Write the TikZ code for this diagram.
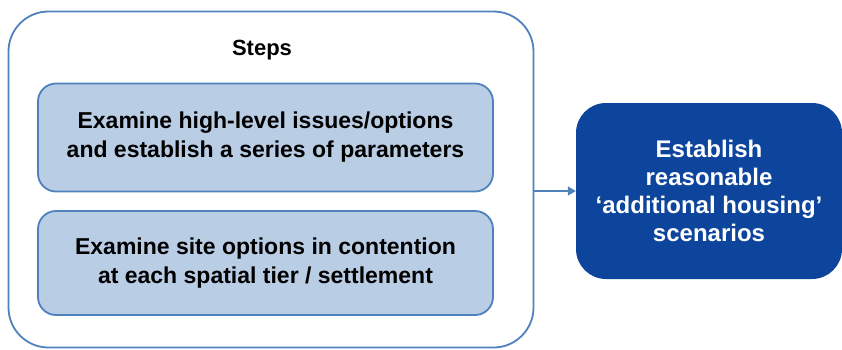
\documentclass[tikz,border=0pt]{standalone}
\usepackage{fontspec}
\setmainfont{Liberation Sans}
\usetikzlibrary{positioning, arrows.meta}
\definecolor{edgeblue}{RGB}{79,129,189}
\definecolor{paleblue}{RGB}{185,205,229}
\definecolor{deepblue}{RGB}{14,69,156}
\tikzstyle{frame}=[draw=edgeblue, line width=1.8pt, rounded corners=40pt, fill=white]
\tikzstyle{stepbox}=[draw=edgeblue, line width=1.8pt, fill=paleblue, rounded corners=18pt,
  minimum width=455pt, minimum height=108pt, align=center,
  font=\bfseries\fontsize{23}{29}\selectfont]
\tikzstyle{outcome}=[fill=deepblue, text=white, rounded corners=30pt,
  minimum width=266pt, minimum height=176pt, align=center,
  font=\bfseries\fontsize{24}{28}\selectfont]
\tikzstyle{arrow}=[-{Triangle[length=8pt, width=9pt]}, line width=1.3pt, draw=edgeblue]

\begin{document}
\begin{tikzpicture}[x=1pt, y=-1pt]
      \useasboundingbox (0,0) rectangle (842,349);

      \node[frame, minimum width=525pt, minimum height=336pt] (steps) at (271,179.5) {};
      \node[font=\bfseries\fontsize{22}{24}\selectfont] (title) at (262,50) {Steps};

      \node[stepbox] (params) at (265.5,137.5) {Examine high-level issues/options\\and establish a series of parameters};
      \node[stepbox, minimum height=104pt] (sites) at (265.5,263) {Examine site options in contention\\at each spatial tier / settlement};

      \node[outcome] (scenarios) at (709,191) {Establish\\reasonable\\‘additional housing’\\scenarios};

      \draw[arrow] (steps.east |- scenarios.west) -- (scenarios.west);
    \end{tikzpicture}
\end{document}
